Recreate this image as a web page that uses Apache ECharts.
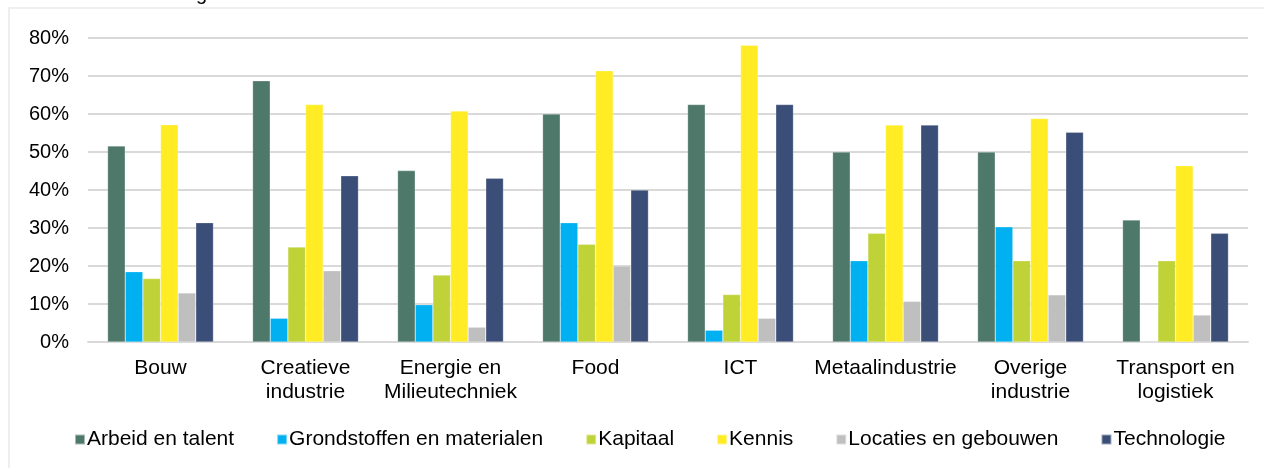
<!DOCTYPE html>
<html>
<head>
<meta charset="utf-8">
<script src="https://cdn.jsdelivr.net/npm/echarts@6/dist/echarts.min.js"></script>
<style>
  html, body { margin: 0; padding: 0; background: #fff; }
  #chart { width: 1264px; height: 468px; }
</style>
</head>
<body>
<div id="chart"></div>
<script>
// sectoren
const categories = ['Bouw', 'Creatieve\nindustrie', 'Energie en\nMilieutechniek', 'Food', 'ICT',
  'Metaalindustrie', 'Overige\nindustrie', 'Transport en\nlogistiek']

const seriesNames = ['Arbeid en talent', 'Grondstoffen en materialen', 'Kapitaal', 'Kennis',
  'Locaties en gebouwen', 'Technologie']

// percentages per factor, in volgorde van de sectoren
const arbeid = [51.6, 68.75, 45.1, 60.0, 62.5, 50.0, 50.0, 32.1]
const grondstoffen = [18.5, 6.25, 9.8, 31.4, 3.1, 21.4, 30.3, 0]
const kapitaal = [16.7, 25.0, 17.6, 25.7, 12.5, 28.6, 21.4, 21.4]
const kennis = [57.2, 62.5, 60.8, 71.4, 78.1, 57.1, 58.8, 46.4]
const locaties = [12.9, 18.75, 3.9, 20.0, 6.25, 10.7, 12.4, 7.1]
const technologie = [31.4, 43.75, 43.1, 40.0, 62.5, 57.1, 55.2, 28.6]

const yTicks = [0, 10, 20, 30, 40, 50, 60, 70, 80]

const colors = ['#4e7869', '#00b0f0', '#bfd338', '#ffec24', '#bfbfbf', '#3b4e78']
const values = [arbeid, grondstoffen, kapitaal, kennis, locaties, technologie]

const font = 'Liberation Sans, Arial, sans-serif'

let option = {
  backgroundColor: '#fff',
  color: colors,
  animation: false,
  textStyle: { fontFamily: font },
  graphic: [
    {
      type: 'rect',
      shape: { x: 9, y: 8, width: 1270, height: 480 },
      style: { fill: 'none', stroke: '#eeeeee', lineWidth: 2 },
      silent: true
    },
    {
      type: 'text',
      left: 196,
      top: -16,
      style: { text: 'g', font: '20px ' + font, fill: '#000' }
    }
  ],
  grid: { left: 88, right: 16, top: 38, bottom: 126 },
  legend: {
    left: 69,
    top: 424,
    itemWidth: 10,
    itemHeight: 10,
    itemGap: 42,
    icon: 'rect',
    textStyle: { fontSize: 21, color: '#000', fontFamily: font, padding: [0, 0, 0, -3] },
    data: seriesNames
  },
  xAxis: {
    type: 'category',
    data: categories,
    axisTick: { show: false },
    axisLine: { lineStyle: { color: '#d9d9d9', width: 2 } },
    axisLabel: { fontSize: 21, color: '#000', margin: 14, lineHeight: 24, interval: 0 }
  },
  yAxis: {
    type: 'value',
    min: yTicks[0],
    max: yTicks[yTicks.length - 1],
    interval: 10,
    axisLabel: { fontSize: 20, color: '#000', margin: 19, formatter: '{value}%' },
    splitLine: { lineStyle: { color: '#d9d9d9', width: 2 } },
    axisLine: { show: false },
    axisTick: { show: false }
  },
  series: seriesNames.map((name, i) => ({
    name: name,
    type: 'bar',
    data: values[i],
    barGap: '0%',
    barCategoryGap: '27%',
    itemStyle: { borderColor: 'rgba(255,255,255,0.5)', borderWidth: 0.5 }
  }))
}

let myChart = echarts.init(document.getElementById('chart'))
myChart.setOption(option)
</script>
</body>
</html>
